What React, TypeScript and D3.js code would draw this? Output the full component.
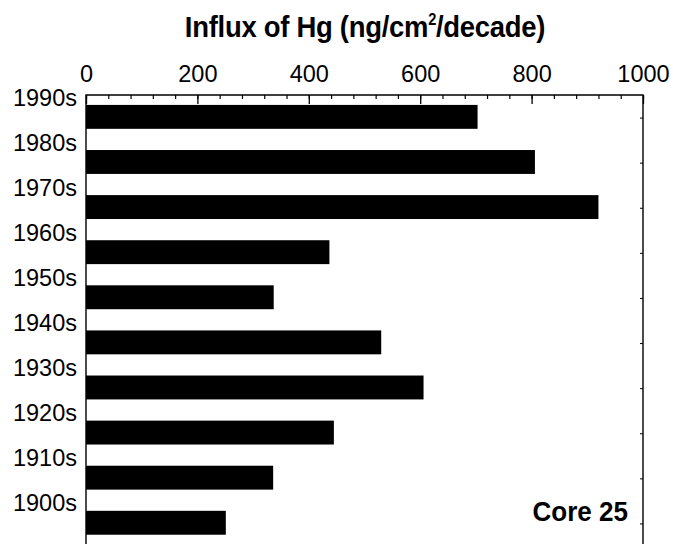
import React, { useEffect, useRef } from 'react';
import * as d3 from 'd3';

// Hg influx per decade, Core 25
const decades = ['1990s', '1980s', '1970s', '1960s', '1950s', '1940s', '1930s', '1920s', '1910s', '1900s'];
const influx = [703, 806, 920, 437, 337, 530, 606, 445, 336, 251];
const majorTicks = [0, 200, 400, 600, 800, 1000];

const W = 673;
const H = 544;
const font = 'Liberation Sans, Arial, sans-serif';

export default function App() {
	const ref = useRef<SVGSVGElement>(null);

	useEffect(() => {
		const svg = d3.select(ref.current);
		svg.selectAll('*').remove();

		const left = 86;
		const right = 643;
		const top = 95;
		const step = 45.1;

		const x = d3.scaleLinear().domain([0, 1000]).range([left, right]);
		const y = d3
			.scaleBand()
			.domain(decades)
			.range([top, top + step * decades.length])
			.padding(0);

		const data = decades.map((d, i) => ({ decade: d, value: influx[i] }));

		// bars
		svg
			.append('g')
			.selectAll('rect')
			.data(data)
			.enter()
			.append('rect')
			.attr('x', x(0))
			.attr('y', d => y(d.decade) + step * 0.22)
			.attr('width', d => x(d.value) - x(0))
			.attr('height', step * 0.53)
			.attr('fill', '#000');

		// minor ticks on top
		const minor = d3
			.axisTop(x)
			.tickValues(d3.range(0, 1001, 40))
			.tickSizeInner(-4)
			.tickSizeOuter(0)
			.tickFormat(() => '');
		svg
			.append('g')
			.attr('transform', `translate(0,${top})`)
			.call(minor)
			.call(g => g.select('.domain').remove())
			.selectAll('line')
			.attr('stroke', '#000')
			.attr('stroke-width', 1.2);

		// major ticks + labels
		const major = d3
			.axisTop(x)
			.tickValues(majorTicks)
			.tickSizeInner(-9)
			.tickSizeOuter(0)
			.tickPadding(13.5)
			.tickFormat(d3.format('d'));
		const gx = svg
			.append('g')
			.attr('transform', `translate(0,${top})`)
			.call(major);
		gx.select('.domain').remove();
		gx.selectAll('line').attr('stroke', '#000').attr('stroke-width', 1.3);
		gx.selectAll('text')
			.attr('font-family', font)
			.attr('font-size', 23.5)
			.attr('fill', '#000');

		// right axis ticks at band centres
		const rightAxis = d3
			.axisLeft(d3.scaleLinear().domain([0, decades.length]).range([top, top + step * decades.length]))
			.tickValues(d3.range(decades.length).map(i => i + 0.5))
			.tickSizeInner(3)
			.tickSizeOuter(0)
			.tickFormat(() => '');
		const gr = svg
			.append('g')
			.attr('transform', `translate(${right},0)`)
			.call(rightAxis);
		gr.select('.domain').remove();
		gr.selectAll('line').attr('stroke', '#000');

		// frame
		svg
			.append('path')
			.attr('d', `M${left},${H + 2}V${top}H${right}V${H + 2}`)
			.attr('fill', 'none')
			.attr('stroke', '#000')
			.attr('stroke-width', 1.4);

		// decade labels
		svg
			.append('g')
			.selectAll('text')
			.data(decades)
			.enter()
			.append('text')
			.attr('x', left - 9)
			.attr('y', d => y(d) + 10.5)
			.attr('text-anchor', 'end')
			.attr('font-family', font)
			.attr('font-size', 23.5)
			.text(d => d);

		// title
		const title = svg
			.append('text')
			.attr('transform', 'translate(365,37) scale(0.915,1)')
			.attr('text-anchor', 'middle')
			.attr('font-family', font)
			.attr('font-size', 30)
			.attr('font-weight', 'bold')
			.attr('letter-spacing', -0.3);
		title.append('tspan').text('Influx of Hg (ng/cm');
		title.append('tspan').attr('font-size', 16).attr('dy', -12).text('2');
		title.append('tspan').attr('dy', 12).text('/decade)');

		svg
			.append('text')
			.attr('transform', 'translate(628,520.5) scale(0.93,1)')
			.attr('text-anchor', 'end')
			.attr('font-family', font)
			.attr('font-size', 28)
			.attr('font-weight', 'bold')
			.text('Core 25');
	}, []);

	return (
		<svg
			ref={ref}
			width={W}
			height={H}
			style={{ position: 'absolute', left: 0, top: 0, background: '#fff' }}
		/>
	);
}
